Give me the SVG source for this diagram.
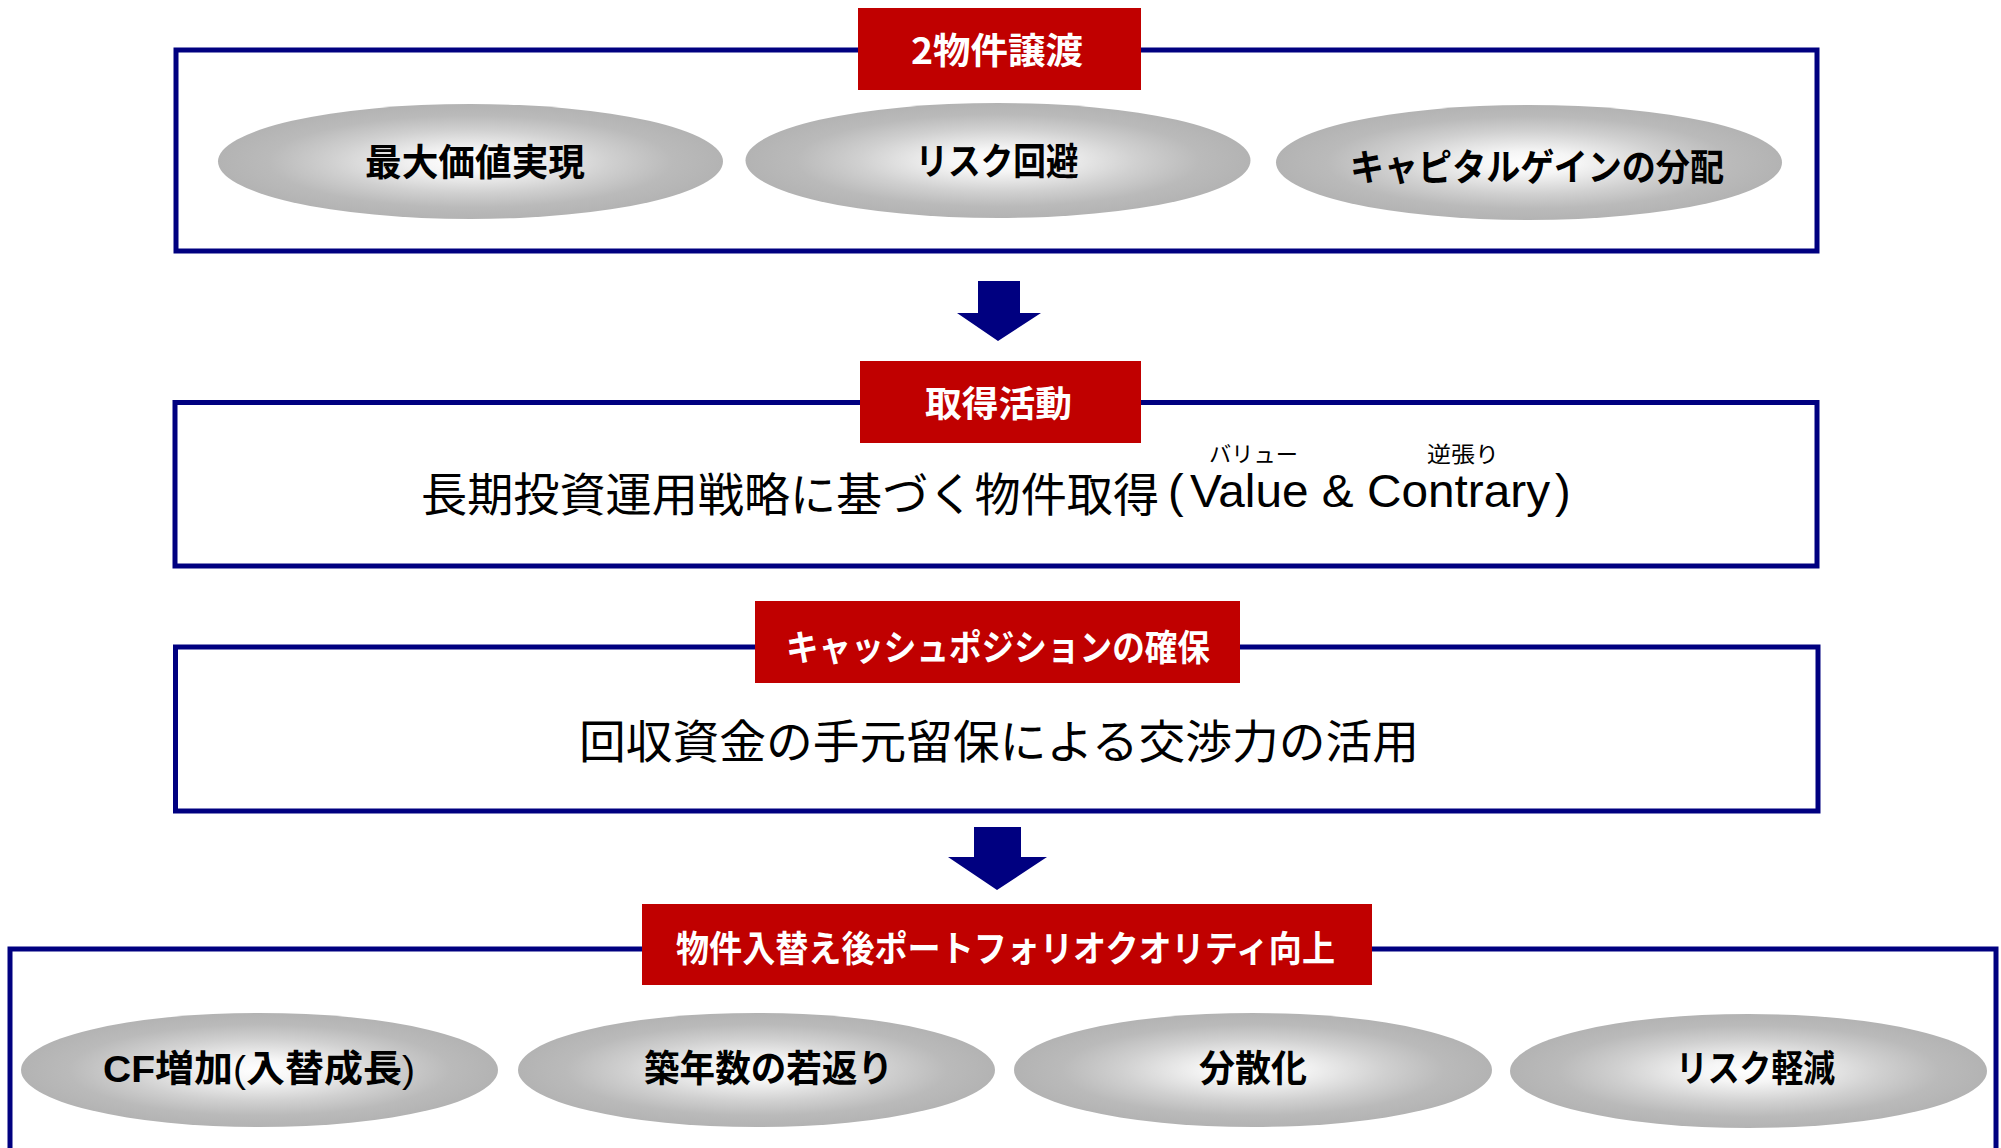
<svg xmlns="http://www.w3.org/2000/svg" width="2001" height="1148" viewBox="0 0 2001 1148">
<style>
.box{fill:#ffffff;stroke:#000080;stroke-width:5}
.lbl{fill:#c00000}
.lt{fill:#ffffff;font-family:'Noto Sans CJK JP',sans-serif;font-weight:bold;font-size:36px;text-anchor:middle;dominant-baseline:central}
.et{fill:#000000;font-family:'Liberation Sans','Noto Sans CJK JP',sans-serif;font-weight:bold;font-size:37px;text-anchor:middle;dominant-baseline:central}
.mt{fill:#000000;font-family:'Noto Sans CJK JP',sans-serif;font-size:46px}
.ruby{fill:#000000;font-family:'Noto Sans CJK JP',sans-serif;font-size:22px;text-anchor:middle;dominant-baseline:central}
.lat{fill:#000000;font-family:'Liberation Sans',sans-serif;font-size:47px}
.par{font-family:'Liberation Sans',sans-serif;font-weight:normal}
.ell{fill:url(#g)}
.arr{fill:#000080}
</style>
<defs>
<radialGradient id="g" cx="0.5" cy="0.5" r="0.5">
<stop offset="0" stop-color="#ffffff"/>
<stop offset="0.2" stop-color="#f5f5f5"/>
<stop offset="0.55" stop-color="#d0d0d0"/>
<stop offset="0.8" stop-color="#bababa"/>
<stop offset="1" stop-color="#b3b3b3"/>
</radialGradient>
</defs>

<g id="connectors">
<polygon class="arr" points="978,281 1020,281 1020,313 1041,313 998,341 957,313 978,313"/>
<polygon class="arr" points="974,827 1021,827 1021,857 1047,857 997,890 948,857 974,857"/>
</g>

<g id="node-transfer">
<rect class="box" x="176" y="50" width="1641" height="201"/>
<rect class="lbl" x="858" y="8" width="283" height="82"/>
<text class="lt" x="997" y="47.5" textLength="172" lengthAdjust="spacingAndGlyphs">2物件譲渡</text>
</g>
<g id="node-max-value">
<ellipse class="ell" cx="470.5" cy="161.5" rx="252.5" ry="57.5"/>
<text class="et" x="475" y="163.5" textLength="220" lengthAdjust="spacingAndGlyphs">最大価値実現</text>
</g>
<g id="node-risk-avoid">
<ellipse class="ell" cx="998" cy="160.5" rx="252.5" ry="57.5"/>
<text class="et" x="997" y="162.5" textLength="163" lengthAdjust="spacingAndGlyphs">リスク回避</text>
</g>
<g id="node-capital-gain">
<ellipse class="ell" cx="1529" cy="162.5" rx="253" ry="57.5"/>
<text class="et" x="1537" y="168" textLength="374" lengthAdjust="spacingAndGlyphs">キャピタルゲインの分配</text>
</g>

<g id="node-acquisition">
<rect class="box" x="175" y="402.5" width="1642" height="163.5"/>
<rect class="lbl" x="860" y="361" width="281" height="82"/>
<text class="lt" x="998.5" y="401" textLength="147" lengthAdjust="spacingAndGlyphs">取得活動</text>
<text class="mt" x="421" y="491" dominant-baseline="central" textLength="738" lengthAdjust="spacingAndGlyphs">長期投資運用戦略に基づく物件取得</text>
<text class="lat" x="1168" y="507" font-size="44">(</text>
<text class="lat" x="1190" y="507" textLength="360" lengthAdjust="spacingAndGlyphs">Value &amp; Contrary</text>
<text class="lat" x="1555" y="507" font-size="44">)</text>
<text class="ruby" x="1253.5" y="452" textLength="89" lengthAdjust="spacingAndGlyphs">バリュー</text>
<text class="ruby" x="1463" y="452" textLength="72" lengthAdjust="spacingAndGlyphs">逆張り</text>
</g>

<g id="node-cash">
<rect class="box" x="175.5" y="647" width="1642.5" height="164"/>
<rect class="lbl" x="755" y="601" width="485" height="82"/>
<text class="lt" x="998" y="644.5" textLength="424" lengthAdjust="spacingAndGlyphs">キャッシュポジションの確保</text>
<text class="mt" x="999" y="738" text-anchor="middle" dominant-baseline="central" textLength="840" lengthAdjust="spacingAndGlyphs">回収資金の手元留保による交渉力の活用</text>
</g>

<g id="node-portfolio">
<rect class="box" x="10" y="949" width="1986" height="220"/>
<rect class="lbl" x="642" y="904" width="730" height="81"/>
<text class="lt" x="1005.5" y="946" textLength="659" lengthAdjust="spacingAndGlyphs">物件入替え後ポートフォリオクオリティ向上</text>
</g>
<g id="node-cf">
<ellipse class="ell" cx="259.5" cy="1070" rx="238.5" ry="57"/>
<text class="et" x="259" y="1069" textLength="312" lengthAdjust="spacingAndGlyphs">CF増加<tspan class="par">(</tspan>入替成長<tspan class="par">)</tspan></text>
</g>
<g id="node-age">
<ellipse class="ell" cx="756.5" cy="1070" rx="238.5" ry="57"/>
<text class="et" x="768.5" y="1069" textLength="249" lengthAdjust="spacingAndGlyphs">築年数の若返り</text>
</g>
<g id="node-diversify">
<ellipse class="ell" cx="1253" cy="1070" rx="239" ry="57"/>
<text class="et" x="1253" y="1069" textLength="108" lengthAdjust="spacingAndGlyphs">分散化</text>
</g>
<g id="node-risk-reduce">
<ellipse class="ell" cx="1748.5" cy="1071" rx="238.5" ry="57"/>
<text class="et" x="1755.5" y="1069" textLength="159" lengthAdjust="spacingAndGlyphs">リスク軽減</text>
</g>
</svg>
